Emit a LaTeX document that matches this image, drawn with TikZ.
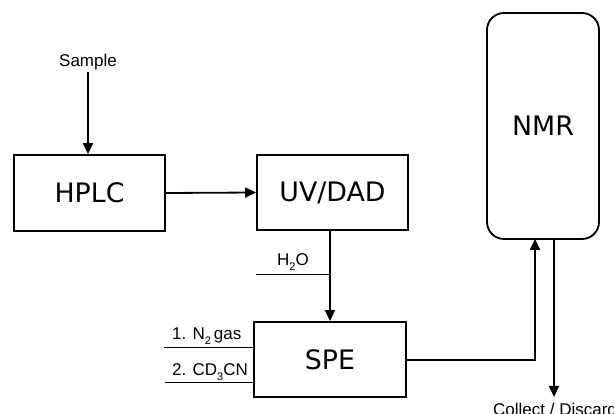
\documentclass[tikz,border=0pt]{standalone}
\usepackage{fontspec}
\setmainfont{Liberation Sans}
\newfontfamily\boxfont{DejaVu Sans}
\newcommand{\lowsub}[1]{\raisebox{-0.55ex}{\fontsize{11}{11}\selectfont #1}}
\usetikzlibrary{arrows.meta,calc}
\begin{document}
\begin{tikzpicture}[x=1pt,y=-1pt,
  unit/.style={draw, line width=1.8pt, minimum width=#1, inner sep=0pt, font=\boxfont\fontsize{26.8}{27}\selectfont},
  flow/.style={line width=1.8pt, -{Triangle[length=11pt,width=10pt]}},
  feed/.style={line width=0.9pt},
  lbl/.style={inner sep=0pt, font=\fontsize{17}{17}\selectfont}]
\useasboundingbox (0,0) rectangle (614,414);
\node[unit=151pt, minimum height=76pt] (hplc) at (89.5,193) {HPLC};
\node[unit=151pt, minimum height=75pt] (uv) at (332.5,192.5) {UV/DAD};
\node[unit=152pt, minimum height=75pt] (spe) at (330,359.5) {SPE};
\draw[line width=1.8pt, rounded corners=17pt] (487,239) -- (487,13) -- (599,13) -- (599,239) -- cycle;
\node[inner sep=0pt, font=\boxfont\fontsize{26.8}{27}\selectfont] (nmr) at (543,126) {NMR};
\coordinate (nmrbl) at (535,239);
\coordinate (nmrbr) at (554,239);
\node[lbl] (sample) at (88,62) {Sample};
\node[lbl] (h2o) at (293,262) {H\lowsub{2}O};
\node[lbl, anchor=west] (n2) at (172,336) {1. N\lowsub{2}\,gas};
\node[lbl, anchor=west] (cd) at (172,372) {2. CD\lowsub{3}CN};
\node[lbl, anchor=west] (coll) at (493,409) {Collect / Discard};
\draw[flow] (sample.south |- 0,72) -- (hplc.north -| sample.south);
\draw[flow] (hplc.east) -- (uv.west);
\draw[flow] (uv.south -| spe.north) -- (spe.north);
\coordinate (h2oj) at (spe.north |- 0,274);
\draw[feed] (256,274) -- (h2oj);
\draw[feed] (164,347) -- (spe.west |- 0,347);
\draw[feed] (165,382) -- (spe.west |- 0,382);
\draw[flow] (spe.east |- 0,360) -- (535,360) -- (nmrbl);
\draw[flow] (nmrbr) -- (554,397);
\end{tikzpicture}
\end{document}
